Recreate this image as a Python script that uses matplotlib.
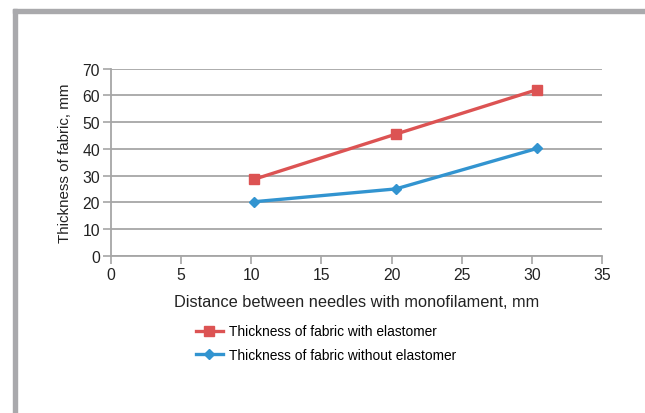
import matplotlib.pyplot as plt
from matplotlib.patches import Rectangle

plt.rcParams['font.family'] = ['Liberation Sans', 'DejaVu Sans']

# data
distance = [10.2, 20.3, 30.4]
with_elastomer = [28.6, 45.5, 62.2]
without_elastomer = [20.2, 25.0, 40.2]

red = '#DC5353'
blue = '#3294D0'
grid_grey = '#A6A6A6'
text_col = '#222222'

W, H = 645, 414
fig = plt.figure(figsize=(W / 100, H / 100), dpi=100)

# grey frame on the left and top edge of the picture
frame = '#A9A9AC'
fig.patches.append(Rectangle((13 / W, 0), 4 / W, (H - 10) / H, transform=fig.transFigure,
                             color=frame, zorder=0))
fig.patches.append(Rectangle((13 / W, (H - 14) / H), (W - 13) / W, 4 / H, transform=fig.transFigure,
                             color=frame, zorder=0))

left, right, top, bottom = 111, 602, 69.7, 256.7
ax = fig.add_axes([left / W, 1 - bottom / H, (right - left) / W, (bottom - top) / H])

ax.plot(distance, with_elastomer, color=red, lw=2.4, marker='s', ms=7,
        label='Thickness of fabric with elastomer')
ax.plot(distance, without_elastomer, color=blue, lw=2.4, marker='D', ms=5,
        label='Thickness of fabric without elastomer')

ax.set_xlim(0, 35)
ax.set_ylim(0, 70)
ax.set_xticks(range(0, 36, 5))
ax.set_yticks(range(0, 71, 10))
ax.grid(axis='y', color=grid_grey, lw=1.3)
ax.set_axisbelow(True)
for s in ['top', 'right']:
    ax.spines[s].set_visible(False)
for s in ['left', 'bottom']:
    ax.spines[s].set_color(grid_grey)
    ax.spines[s].set_linewidth(1.3)
ax.tick_params(colors=text_col, labelsize=11.3, length=6, width=1.2, color=grid_grey, pad=2)

ax.set_xlabel('Distance between needles with monofilament, mm', fontsize=11.8, color=text_col, labelpad=9)
ax.set_ylabel('Thickness of fabric, mm', fontsize=10.9, color=text_col, labelpad=7)

fig.legend(loc='upper left', bbox_to_anchor=(184 / W, 1 - 313 / H), frameon=False,
           fontsize=9.9, handlelength=1.9, labelspacing=0.72, handletextpad=0.5)

fig.savefig('out.png', dpi=100)
